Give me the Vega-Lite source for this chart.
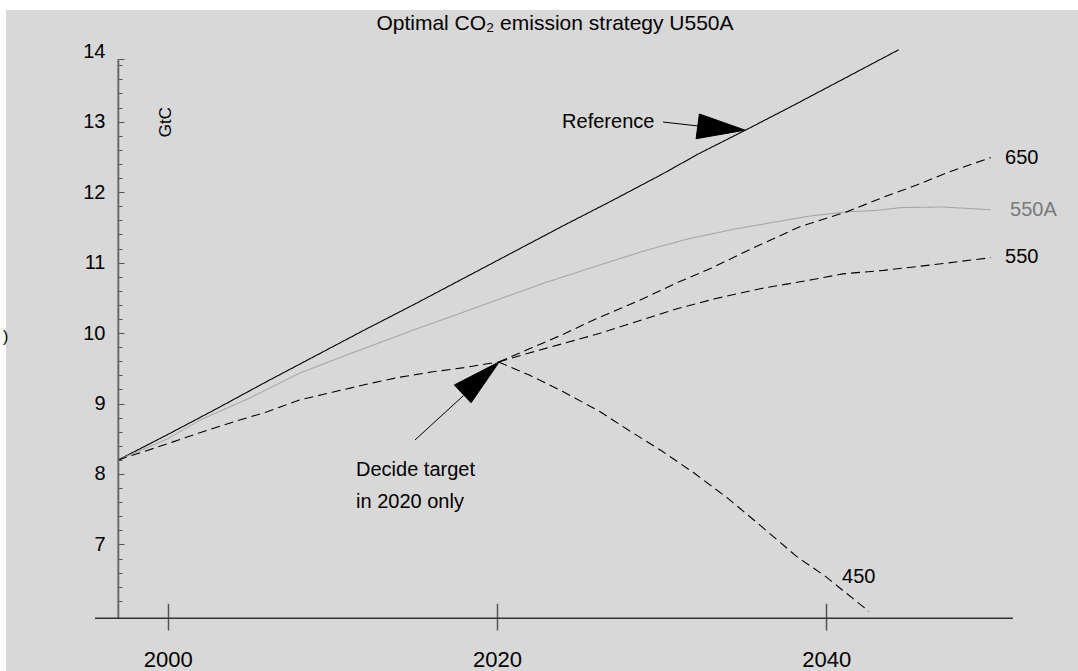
{
  "$schema": "https://vega.github.io/schema/vega-lite/v6.json",
  "width": 1072,
  "height": 661,
  "autosize": "none",
  "padding": {"left": 6, "top": 10, "right": 0, "bottom": 0},
  "background": "#ffffff",
  "config": {"view": {"fill": "#d8d8d8", "stroke": null}, "font": "Liberation Sans"},
  "title": {"text": "Optimal CO₂ emission strategy U550A", "anchor": "middle", "frame": "group", "fontSize": 21, "font": "Liberation Sans", "fontWeight": "normal", "color": "#000000", "offset": -24, "dx": 13},
  "datasets": {
    "lines": [
      {"series": "Reference", "year": 1997, "value": 8.2},
      {"series": "Reference", "year": 2000, "value": 8.56},
      {"series": "Reference", "year": 2003, "value": 8.93},
      {"series": "Reference", "year": 2006, "value": 9.31},
      {"series": "Reference", "year": 2009, "value": 9.68},
      {"series": "Reference", "year": 2012, "value": 10.05},
      {"series": "Reference", "year": 2015, "value": 10.41},
      {"series": "Reference", "year": 2018, "value": 10.78},
      {"series": "Reference", "year": 2021, "value": 11.15},
      {"series": "Reference", "year": 2024, "value": 11.52},
      {"series": "Reference", "year": 2027, "value": 11.88},
      {"series": "Reference", "year": 2030, "value": 12.25},
      {"series": "Reference", "year": 2032.3, "value": 12.55},
      {"series": "Reference", "year": 2035.1, "value": 12.88},
      {"series": "Reference", "year": 2038, "value": 13.23},
      {"series": "Reference", "year": 2041, "value": 13.6},
      {"series": "Reference", "year": 2044.4, "value": 14.02},
      {"series": "550A", "year": 1997, "value": 8.2},
      {"series": "550A", "year": 2000, "value": 8.5},
      {"series": "550A", "year": 2002, "value": 8.77},
      {"series": "550A", "year": 2005, "value": 9.08},
      {"series": "550A", "year": 2008, "value": 9.43},
      {"series": "550A", "year": 2011, "value": 9.7},
      {"series": "550A", "year": 2014.9, "value": 10.04},
      {"series": "550A", "year": 2018, "value": 10.3},
      {"series": "550A", "year": 2020, "value": 10.47},
      {"series": "550A", "year": 2023, "value": 10.72},
      {"series": "550A", "year": 2026.3, "value": 10.97},
      {"series": "550A", "year": 2029, "value": 11.17},
      {"series": "550A", "year": 2031.5, "value": 11.33},
      {"series": "550A", "year": 2034.3, "value": 11.47},
      {"series": "550A", "year": 2037, "value": 11.58},
      {"series": "550A", "year": 2039, "value": 11.66},
      {"series": "550A", "year": 2041.2, "value": 11.72},
      {"series": "550A", "year": 2043, "value": 11.74},
      {"series": "550A", "year": 2044.5, "value": 11.78},
      {"series": "550A", "year": 2047, "value": 11.79},
      {"series": "550A", "year": 2050, "value": 11.75},
      {"series": "base", "year": 1997, "value": 8.2},
      {"series": "base", "year": 2000, "value": 8.43},
      {"series": "base", "year": 2002, "value": 8.59},
      {"series": "base", "year": 2004, "value": 8.74},
      {"series": "base", "year": 2006, "value": 8.88},
      {"series": "base", "year": 2008, "value": 9.05},
      {"series": "base", "year": 2010, "value": 9.16},
      {"series": "base", "year": 2012, "value": 9.27},
      {"series": "base", "year": 2014, "value": 9.37},
      {"series": "base", "year": 2016.1, "value": 9.45},
      {"series": "base", "year": 2018, "value": 9.51},
      {"series": "base", "year": 2020.1, "value": 9.59},
      {"series": "650", "year": 2020.1, "value": 9.59},
      {"series": "650", "year": 2022, "value": 9.78},
      {"series": "650", "year": 2024, "value": 9.98},
      {"series": "650", "year": 2026, "value": 10.2},
      {"series": "650", "year": 2028.9, "value": 10.49},
      {"series": "650", "year": 2031, "value": 10.72},
      {"series": "650", "year": 2033, "value": 10.92},
      {"series": "650", "year": 2035.5, "value": 11.2},
      {"series": "650", "year": 2038.4, "value": 11.51},
      {"series": "650", "year": 2041.25, "value": 11.72},
      {"series": "650", "year": 2043.5, "value": 11.93},
      {"series": "650", "year": 2045.5, "value": 12.1},
      {"series": "650", "year": 2047.5, "value": 12.29},
      {"series": "650", "year": 2050, "value": 12.49},
      {"series": "550", "year": 2020.1, "value": 9.59},
      {"series": "550", "year": 2022, "value": 9.72},
      {"series": "550", "year": 2024, "value": 9.85},
      {"series": "550", "year": 2026, "value": 9.98},
      {"series": "550", "year": 2029, "value": 10.2},
      {"series": "550", "year": 2031, "value": 10.35},
      {"series": "550", "year": 2033.3, "value": 10.49},
      {"series": "550", "year": 2036, "value": 10.63},
      {"series": "550", "year": 2039.2, "value": 10.76},
      {"series": "550", "year": 2041, "value": 10.84},
      {"series": "550", "year": 2043.5, "value": 10.89},
      {"series": "550", "year": 2046.5, "value": 10.97},
      {"series": "550", "year": 2050, "value": 11.07},
      {"series": "450", "year": 2020.1, "value": 9.59},
      {"series": "450", "year": 2022, "value": 9.4},
      {"series": "450", "year": 2024, "value": 9.17},
      {"series": "450", "year": 2026.3, "value": 8.88},
      {"series": "450", "year": 2028, "value": 8.62},
      {"series": "450", "year": 2030, "value": 8.33},
      {"series": "450", "year": 2032, "value": 8.01},
      {"series": "450", "year": 2034, "value": 7.66},
      {"series": "450", "year": 2036, "value": 7.27},
      {"series": "450", "year": 2038.2, "value": 6.83},
      {"series": "450", "year": 2040, "value": 6.54},
      {"series": "450", "year": 2041, "value": 6.35},
      {"series": "450", "year": 2042.6, "value": 6.05}
    ],
    "arrows": [
      {"arrow": "ref", "ord": 0, "year": 2030.09, "value": 12.995},
      {"arrow": "ref", "ord": 1, "year": 2032.2, "value": 12.94},
      {"arrow": "decide", "ord": 0, "year": 2015.02, "value": 8.482},
      {"arrow": "decide", "ord": 1, "year": 2017.96, "value": 9.111}
    ],
    "heads": [
      {"head": "ref", "ord": 0, "year": 2032.3, "value": 13.109},
      {"head": "ref", "ord": 1, "year": 2035.08, "value": 12.88},
      {"head": "ref", "ord": 2, "year": 2032.1, "value": 12.758},
      {"head": "ref", "ord": 3, "year": 2032.3, "value": 13.109},
      {"head": "decide", "ord": 0, "year": 2017.41, "value": 9.263},
      {"head": "decide", "ord": 1, "year": 2020.15, "value": 9.593},
      {"head": "decide", "ord": 2, "year": 2018.43, "value": 9.011},
      {"head": "decide", "ord": 3, "year": 2017.41, "value": 9.263}
    ],
    "labels": [
      {"label": "Reference", "year": 2023.96, "value": 12.995, "col": "#000000"},
      {"label": "Decide target", "year": 2011.44, "value": 8.056, "col": "#000000"},
      {"label": "in 2020 only", "year": 2011.44, "value": 7.606, "col": "#000000"},
      {"label": "650", "year": 2050.87, "value": 12.484, "col": "#000000"},
      {"label": "550A", "year": 2051.17, "value": 11.746, "col": "#7a7a7a"},
      {"label": "550", "year": 2050.87, "value": 11.084, "col": "#000000"},
      {"label": "450", "year": 2040.97, "value": 6.538, "col": "#000000"}
    ]
  },
  "layer": [
    {
      "data": {"name": "lines"},
      "mark": {"type": "line", "strokeWidth": 1.1},
      "encoding": {
        "x": {"field": "year", "type": "quantitative", "scale": {"domain": [1990.176, 2055.3], "nice": false, "zero": false},
          "axis": {"orient": "bottom", "offset": -67.7, "values": [2000, 2020, 2040], "format": "d", "tickSize": 26.7, "tickColor": "#555555", "tickWidth": 1.5, "domain": false, "grid": false, "labelPadding": 29, "labelBaseline": "middle", "labelFontSize": 22, "labelFont": "Liberation Sans", "labelColor": "#000000", "title": null}},
        "y": {"field": "value", "type": "quantitative", "scale": {"domain": [5.204, 14.585], "nice": false, "zero": false},
          "axis": {"orient": "left", "offset": -111.7, "values": [7, 8, 9, 10, 11, 12, 13, 14], "ticks": false, "tickSize": 0, "domain": false, "grid": false, "labelPadding": 12.7, "labelFontSize": 20, "labelFont": "Liberation Sans", "labelColor": "#000000", "title": null}},
        "detail": {"field": "series"},
        "color": {"field": "series", "type": "nominal", "legend": null,
          "scale": {"domain": ["Reference", "550A", "base", "650", "550", "450"], "range": ["#000000", "#a8a8a8", "#000000", "#000000", "#000000", "#000000"]}},
        "strokeDash": {"field": "series", "type": "nominal", "legend": null,
          "scale": {"domain": ["Reference", "550A", "base", "650", "550", "450"], "range": [[1, 0], [1, 0], [9, 5], [9, 5], [9, 5], [9, 5]]}}
      }
    },
    {
      "data": {"values": [{"x": 1997, "ya": 5.951, "yb": 13.885}]},
      "mark": {"type": "rule", "color": "#6a6a6a", "strokeWidth": 2},
      "encoding": {
        "x": {"field": "x", "type": "quantitative", "scale": {"domain": [1990.176, 2055.3], "nice": false, "zero": false}, "axis": null},
        "y": {"field": "ya", "type": "quantitative", "scale": {"domain": [5.204, 14.585], "nice": false, "zero": false},
          "axis": {"orient": "right", "offset": -960.3, "values": [7, 8, 9, 10, 11, 12, 13, 13.885], "tickSize": 6.3, "tickColor": "#555555", "tickWidth": 1, "labels": false, "domain": false, "grid": false, "title": null}},
        "y2": {"field": "yb"}
      }
    },
    {
      "data": {"values": [{"xa": 1995.58, "xb": 2051.35, "y": 5.951}]},
      "mark": {"type": "rule", "color": "#333333", "strokeWidth": 1.5},
      "encoding": {
        "x": {"field": "xa", "type": "quantitative", "scale": {"domain": [1990.176, 2055.3], "nice": false, "zero": false}, "axis": null},
        "x2": {"field": "xb"},
        "y": {"field": "y", "type": "quantitative", "scale": {"domain": [5.204, 14.585], "nice": false, "zero": false},
          "axis": {"orient": "right", "offset": -960.3, "values": [6.2, 6.4, 6.6, 6.8, 7.2, 7.4, 7.6, 7.8, 8.2, 8.4, 8.6, 8.8, 9.2, 9.4, 9.6, 9.8, 10.2, 10.4, 10.6, 10.8, 11.2, 11.4, 11.6, 11.8, 12.2, 12.4, 12.6, 12.8, 13.2, 13.4, 13.6, 13.8], "tickSize": 4.3, "tickColor": "#555555", "tickWidth": 1, "labels": false, "domain": false, "grid": false, "title": null}}
      }
    },
    {
      "data": {"name": "arrows"},
      "mark": {"type": "line", "color": "#000000", "strokeWidth": 1},
      "encoding": {
        "x": {"field": "year", "type": "quantitative", "scale": {"domain": [1990.176, 2055.3], "nice": false, "zero": false}, "axis": null},
        "y": {"field": "value", "type": "quantitative", "scale": {"domain": [5.204, 14.585], "nice": false, "zero": false}, "axis": null},
        "detail": {"field": "arrow"},
        "order": {"field": "ord"}
      }
    },
    {
      "data": {"name": "heads"},
      "mark": {"type": "line", "filled": true, "fill": "#000000", "stroke": "#000000", "strokeWidth": 1},
      "encoding": {
        "x": {"field": "year", "type": "quantitative", "scale": {"domain": [1990.176, 2055.3], "nice": false, "zero": false}, "axis": null},
        "y": {"field": "value", "type": "quantitative", "scale": {"domain": [5.204, 14.585], "nice": false, "zero": false}, "axis": null},
        "detail": {"field": "head"},
        "order": {"field": "ord"}
      }
    },
    {
      "data": {"name": "labels"},
      "mark": {"type": "text", "align": "left", "baseline": "middle", "fontSize": 20, "font": "Liberation Sans"},
      "encoding": {
        "x": {"field": "year", "type": "quantitative", "scale": {"domain": [1990.176, 2055.3], "nice": false, "zero": false}, "axis": null},
        "y": {"field": "value", "type": "quantitative", "scale": {"domain": [5.204, 14.585], "nice": false, "zero": false}, "axis": null},
        "text": {"field": "label"},
        "color": {"field": "col", "type": "nominal", "scale": null}
      }
    },
    {
      "data": {"values": [{"label": "GtC", "year": 1999.9, "value": 12.995}]},
      "mark": {"type": "text", "align": "center", "baseline": "middle", "angle": 270, "fontSize": 17, "font": "Liberation Sans", "color": "#000000"},
      "encoding": {
        "x": {"field": "year", "type": "quantitative", "scale": {"domain": [1990.176, 2055.3], "nice": false, "zero": false}, "axis": null},
        "y": {"field": "value", "type": "quantitative", "scale": {"domain": [5.204, 14.585], "nice": false, "zero": false}, "axis": null},
        "text": {"field": "label"}
      }
    },
    {
      "data": {"values": [{"label": ")", "year": 1989.99, "value": 9.944}]},
      "mark": {"type": "text", "align": "left", "baseline": "middle", "fontSize": 16, "font": "Liberation Sans", "color": "#000000"},
      "encoding": {
        "x": {"field": "year", "type": "quantitative", "scale": {"domain": [1990.176, 2055.3], "nice": false, "zero": false}, "axis": null},
        "y": {"field": "value", "type": "quantitative", "scale": {"domain": [5.204, 14.585], "nice": false, "zero": false}, "axis": null},
        "text": {"field": "label"}
      }
    }
  ],
  "resolve": {"axis": {"x": "independent", "y": "independent"}}
}
